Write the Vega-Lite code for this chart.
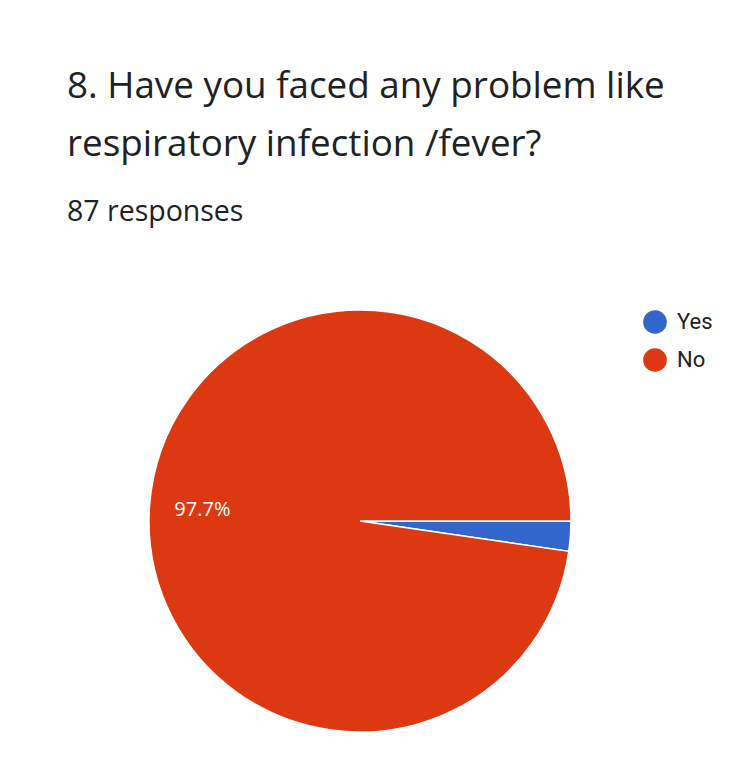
{
  "$schema": "https://vega.github.io/schema/vega-lite/v6.json",
  "autosize": "none",
  "width": 422,
  "height": 422,
  "padding": {"left": 149, "top": 310, "right": 181, "bottom": 25},
  "background": "white",
  "config": {"view": {"stroke": null}},
  "title": {
    "text": ["8. Have you faced any problem like", "respiratory infection /fever?"],
    "subtitle": "87 responses",
    "anchor": "start",
    "frame": "group",
    "dx": -82,
    "offset": 81,
    "font": "Open Sans",
    "fontSize": 36.8,
    "fontWeight": "normal",
    "color": "#202124",
    "lineHeight": 58,
    "subtitleFont": "Open Sans",
    "subtitleFontSize": 28.5,
    "subtitleColor": "#202124",
    "subtitlePadding": 34
  },
  "data": {
    "values": [
      {"category": "Yes", "count": 2, "idx": 0, "label": "2.3%"},
      {"category": "No", "count": 85, "idx": 1, "label": "97.7%"}
    ]
  },
  "encoding": {
    "theta": {"field": "count", "type": "quantitative", "stack": true, "scale": {"range": [1.5708, 7.854]}},
    "order": {"field": "idx", "type": "quantitative"},
    "color": {
      "field": "category",
      "type": "nominal",
      "scale": {"domain": ["Yes", "No"], "range": ["#3366cc", "#dc3912"]},
      "legend": {
        "title": null,
        "orient": "none",
        "legendX": 494,
        "legendY": 0,
        "symbolType": "circle",
        "symbolSize": 560,
        "symbolStrokeWidth": 0,
        "symbolOpacity": 1,
        "labelFont": "Roboto",
        "labelFontSize": 22,
        "labelColor": "#222222",
        "labelOffset": 10,
        "rowPadding": 14
      }
    }
  },
  "layer": [
    {"mark": {"type": "arc", "outerRadius": 211, "stroke": "white", "strokeWidth": 1.5}},
    {
      "mark": {"type": "text", "radius": 158, "font": "Open Sans", "fontSize": 20, "color": "white"},
      "encoding": {
        "text": {"condition": {"test": "datum.category == 'No'", "field": "label"}, "value": ""},
        "color": {"value": "white"}
      }
    }
  ]
}
